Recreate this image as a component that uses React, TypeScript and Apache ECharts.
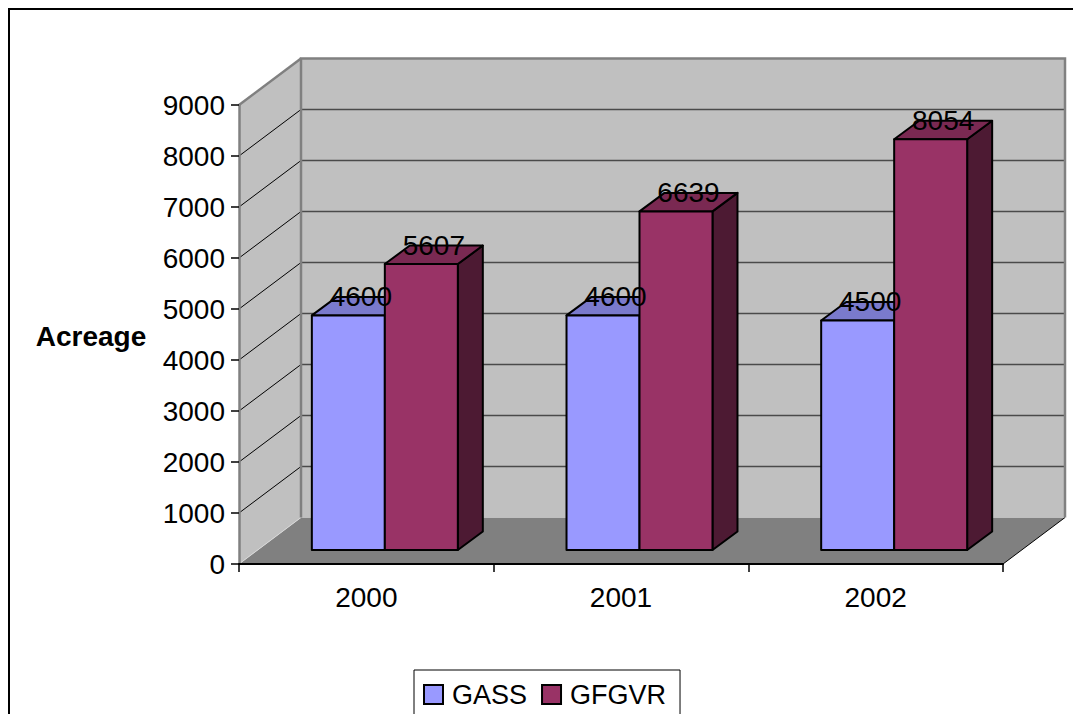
import React, { useEffect, useRef } from "react";
import * as echarts from "echarts";

// Chart data
const years = ["2000", "2001", "2002"];
const gass = [4600, 4600, 4500];
const gfgvr = [5607, 6639, 8054];
const seriesNames = ["GASS", "GFGVR"];

// Value axis range
const Y_MIN = 0;
const Y_MAX = 9000;
const Y_STEP = 1000;

// 3D look: wall depth, bar placement within the depth, bar thickness
const WALL_DX = 62;
const WALL_DY = -46.5;
const BAR_FRONT_DX = 18.5;
const BAR_FRONT_DY = -14;
const BAR_DX = 25;
const BAR_DY = -18.5;
const BAR_WIDTH_RATIO = 0.2866;

const FONT = "'Liberation Sans', Arial, Helvetica, sans-serif";
const FONT_SIZE = 28;

const palette = [
  { front: "#9999FF", top: "#7A7ACC", side: "#5C5C99" },
  { front: "#993366", top: "#7A2952", side: "#4D1A33" },
];

// front-left x and front top/bottom y of one bar
function barBox(api: any, cat: number, val: number, seriesIndex: number) {
  const [cx, yBase] = api.coord([cat, Y_MIN]);
  const yVal = api.coord([cat, val])[1];
  const band = api.size([1, 0])[0];
  const bw = band * BAR_WIDTH_RATIO;
  const xl = cx + BAR_FRONT_DX - bw + seriesIndex * bw;
  return { xl, xr: xl + bw, top: yVal + BAR_FRONT_DY, bottom: yBase + BAR_FRONT_DY };
}

function wallRenderer(params: any, api: any) {
  const cs = params.coordSys;
  const gx = cs.x;
  const gw = cs.width;
  const y = (v: number) => api.coord([0, v])[1];
  const y0 = y(Y_MIN);
  const yTop = y(Y_MAX);
  const children: any[] = [];

  // floor
  children.push({
    type: "polygon",
    shape: {
      points: [
        [gx, y0],
        [gx + gw, y0],
        [gx + gw + WALL_DX, y0 + WALL_DY],
        [gx + WALL_DX, y0 + WALL_DY],
      ],
    },
    style: { fill: "#808080" },
  });
  // back wall
  children.push({
    type: "rect",
    shape: { x: gx + WALL_DX, y: yTop + WALL_DY, width: gw, height: y0 - yTop },
    style: { fill: "#C0C0C0" },
  });
  // side wall
  children.push({
    type: "polygon",
    shape: {
      points: [
        [gx, yTop],
        [gx + WALL_DX, yTop + WALL_DY],
        [gx + WALL_DX, y0 + WALL_DY],
        [gx, y0],
      ],
    },
    style: { fill: "#C0C0C0" },
  });
  // gridlines on back wall and side wall
  for (let v = Y_MIN + Y_STEP; v < Y_MAX; v += Y_STEP) {
    const yy = y(v);
    children.push({
      type: "line",
      shape: { x1: gx + WALL_DX, y1: yy + WALL_DY, x2: gx + gw + WALL_DX, y2: yy + WALL_DY },
      style: { stroke: "#4a4a4a", lineWidth: 1.5 },
    });
    children.push({
      type: "line",
      shape: { x1: gx, y1: yy, x2: gx + WALL_DX, y2: yy + WALL_DY },
      style: { stroke: "#000", lineWidth: 1 },
    });
  }
  // side wall / floor seam
  children.push({
    type: "line",
    shape: { x1: gx, y1: y0, x2: gx + WALL_DX, y2: y0 + WALL_DY },
    style: { stroke: "#d8d8d8", lineWidth: 1 },
  });
  // floor right edge
  children.push({
    type: "line",
    shape: { x1: gx + gw, y1: y0, x2: gx + gw + WALL_DX, y2: y0 + WALL_DY },
    style: { stroke: "#000", lineWidth: 1 },
  });
  // wall outlines
  children.push({
    type: "polyline",
    shape: {
      points: [
        [gx + WALL_DX, y0 + WALL_DY],
        [gx + WALL_DX, yTop + WALL_DY],
        [gx + gw + WALL_DX, yTop + WALL_DY],
        [gx + gw + WALL_DX, y0 + WALL_DY],
      ],
    },
    style: { stroke: "#808080", lineWidth: 2.5, fill: "none" },
  });
  children.push({
    type: "line",
    shape: { x1: gx, y1: yTop, x2: gx + WALL_DX, y2: yTop + WALL_DY },
    style: { stroke: "#808080", lineWidth: 2.5 },
  });
  return { type: "group", children, silent: true };
}

function barRenderer(seriesIndex: number) {
  const colors = palette[seriesIndex];
  return (params: any, api: any) => {
    const { xl, xr, top, bottom } = barBox(api, api.value(0), api.value(1), seriesIndex);
    const stroke = { stroke: "#000", lineWidth: 2, lineJoin: "round" };
    return {
      type: "group",
      children: [
        {
          type: "polygon",
          shape: {
            points: [
              [xr, top],
              [xr + BAR_DX, top + BAR_DY],
              [xr + BAR_DX, bottom + BAR_DY],
              [xr, bottom],
            ],
          },
          style: { fill: colors.side, ...stroke },
        },
        {
          type: "polygon",
          shape: {
            points: [
              [xl, top],
              [xr, top],
              [xr + BAR_DX, top + BAR_DY],
              [xl + BAR_DX, top + BAR_DY],
            ],
          },
          style: { fill: colors.top, ...stroke },
        },
        {
          type: "rect",
          shape: { x: xl, y: top, width: xr - xl, height: bottom - top },
          style: { fill: colors.front, ...stroke },
        },
      ],
    };
  };
}

// value labels sit above every bar, drawn last
function labelRenderer(params: any, api: any) {
  const val = api.value(1);
  const s = api.value(2);
  const { xl, xr, top } = barBox(api, api.value(0), val, s);
  return {
    type: "text",
    x: (xl + xr) / 2 + BAR_DX / 2,
    y: top - 19,
    style: {
      text: String(val),
      fill: "#000",
      font: `${FONT_SIZE}px ${FONT}`,
      align: "center",
      verticalAlign: "middle",
    },
  };
}

export default function App() {
  const ref = useRef<HTMLDivElement>(null);

  useEffect(() => {
    if (!ref.current) return;
    const chart = echarts.init(ref.current, undefined, { renderer: "svg" });
    const labelData = [
      ...gass.map((v, i) => [i, v, 0]),
      ...gfgvr.map((v, i) => [i, v, 1]),
    ];
    const option: any = {
      animation: false,
      backgroundColor: "#fff",
      grid: { left: 239, top: 105, width: 764, height: 459, containLabel: false },
      xAxis: {
        type: "category",
        data: years,
        z: 10,
        axisLine: { show: true, lineStyle: { color: "#000", width: 2 } },
        axisTick: { show: true, length: 8, lineStyle: { color: "#000", width: 1.5 } },
        axisLabel: { color: "#000", fontSize: FONT_SIZE, fontFamily: FONT, margin: 19 },
        splitLine: { show: false },
      },
      yAxis: {
        type: "value",
        min: Y_MIN,
        max: Y_MAX,
        interval: Y_STEP,
        z: 10,
        axisLine: { show: true, lineStyle: { color: "#808080", width: 2.5 } },
        axisTick: { show: true, length: 8, lineStyle: { color: "#000", width: 1.5 } },
        axisLabel: {
          color: "#000",
          fontSize: FONT_SIZE,
          fontFamily: FONT,
          margin: 14,
          formatter: (v: number) => String(v),
        },
        splitLine: { show: false },
      },
      legend: {
        data: seriesNames,
        left: 414,
        top: 670,
        orient: "horizontal",
        icon: "rect",
        itemWidth: 19,
        itemHeight: 19,
        itemGap: 14,
        padding: [11, 14, 14, 9],
        backgroundColor: "#fff",
        borderColor: "#000",
        borderWidth: 1,
        borderRadius: 0,
        itemStyle: { borderColor: "#000", borderWidth: 2 },
        textStyle: { color: "#000", fontSize: 27, fontFamily: FONT, padding: [0, 0, 0, 4] },
      },
      graphic: [
        {
          type: "line",
          shape: { x1: 8, y1: 9, x2: 1073, y2: 9 },
          style: { stroke: "#000", lineWidth: 2 },
          z: 100,
        },
        {
          type: "line",
          shape: { x1: 9, y1: 8, x2: 9, y2: 714 },
          style: { stroke: "#000", lineWidth: 2 },
          z: 100,
        },
        {
          type: "text",
          x: 91,
          y: 336,
          style: {
            text: "Acreage",
            fill: "#000",
            font: `bold ${FONT_SIZE}px ${FONT}`,
            align: "center",
            verticalAlign: "middle",
          },
        },
      ],
      series: [
        {
          type: "custom",
          name: "walls",
          silent: true,
          z: 1,
          renderItem: wallRenderer,
          data: [[0, 0]],
          encode: { x: 0, y: 1 },
        },
        {
          type: "custom",
          name: seriesNames[0],
          z: 2,
          renderItem: barRenderer(0),
          itemStyle: { color: palette[0].front },
          data: gass.map((v, i) => [i, v]),
          encode: { x: 0, y: 1 },
        },
        {
          type: "custom",
          name: seriesNames[1],
          z: 3,
          renderItem: barRenderer(1),
          itemStyle: { color: palette[1].front },
          data: gfgvr.map((v, i) => [i, v]),
          encode: { x: 0, y: 1 },
        },
        {
          type: "custom",
          name: "values",
          silent: true,
          z: 4,
          renderItem: labelRenderer,
          data: labelData,
          encode: { x: 0, y: 1 },
        },
      ],
    };
    chart.setOption(option);
    return () => chart.dispose();
  }, []);

  return (
    <div
      ref={ref}
      style={{ position: "fixed", left: 0, top: 0, width: 1073, height: 714 }}
    />
  );
}
